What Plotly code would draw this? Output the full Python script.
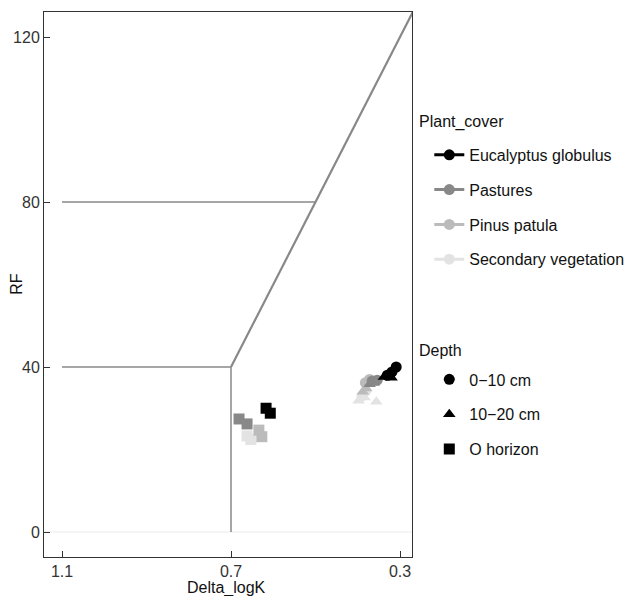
import plotly.graph_objects as go

# ---- data ----
plant_covers = ["Eucalyptus globulus", "Pastures", "Pinus patula", "Secondary vegetation"]
plant_colors = ["#000000", "#888888", "#bbbbbb", "#e3e3e3"]
depths = ["0\u221210 cm", "10\u221220 cm", "O horizon"]
depth_symbols = ["circle", "triangle-up", "square"]

# (plant cover, depth) -> (Delta_logK list, RF list)
points = {
    ("Secondary vegetation", "O horizon"): ([0.662, 0.653], [23.3, 22.4]),
    ("Secondary vegetation", "10\u221220 cm"): ([0.398, 0.384, 0.356], [31.8, 32.6, 31.6]),
    ("Secondary vegetation", "0\u221210 cm"): ([0.381, 0.390], [34.2, 33.0]),
    ("Pinus patula", "O horizon"): ([0.634, 0.627], [24.7, 23.1]),
    ("Pinus patula", "10\u221220 cm"): ([0.388, 0.380], [34.0, 34.8]),
    ("Pinus patula", "0\u221210 cm"): ([0.382, 0.372], [36.2, 37.0]),
    ("Pastures", "O horizon"): ([0.681, 0.662], [27.4, 26.2]),
    ("Pastures", "10\u221220 cm"): ([0.372, 0.362], [35.8, 36.2]),
    ("Pastures", "0\u221210 cm"): ([0.366, 0.354], [36.6, 36.8]),
    ("Eucalyptus globulus", "O horizon"): ([0.617, 0.607], [30.0, 28.8]),
    ("Eucalyptus globulus", "10\u221220 cm"): ([0.338, 0.326, 0.320], [37.6, 38.2, 37.4]),
    ("Eucalyptus globulus", "0\u221210 cm"): ([0.330, 0.319, 0.309], [38.0, 38.8, 40.0]),
}

# classification boundary lines (Delta_logK, RF)
vert_x, vert_y = [0.7, 0.7], [0, 40]
h40_x, h40_y = [1.1, 0.7], [40, 40]
h80_x, h80_y = [1.1, 0.5], [80, 80]
diag_x, diag_y = [0.7, 0.27], [40, 126]
zero_x, zero_y = [1.2, 0.2], [0, 0]

x_ticks = [1.1, 0.7, 0.3]
y_ticks = [0, 40, 80, 120]

FONT = "Liberation Sans, Arial, sans-serif"
LINE_COL = "#888888"
FS = 16

fig = go.Figure()

fig.add_trace(go.Scatter(x=zero_x, y=zero_y, mode="lines",
                         line=dict(color="#ebebeb", width=1), showlegend=False, hoverinfo="skip"))
for xs, ys, w in [(vert_x, vert_y, 1.5), (h40_x, h40_y, 1.5), (h80_x, h80_y, 1.5), (diag_x, diag_y, 2.2)]:
    fig.add_trace(go.Scatter(x=xs, y=ys, mode="lines",
                             line=dict(color=LINE_COL, width=w), showlegend=False, hoverinfo="skip"))

for (pc, dp), (xs, ys) in points.items():
    col = plant_colors[plant_covers.index(pc)]
    sym = depth_symbols[depths.index(dp)]
    fig.add_trace(go.Scatter(x=xs, y=ys, mode="markers",
                             marker=dict(color=col, symbol=sym, size=11, line=dict(width=0)),
                             showlegend=False, name=f"{pc}, {dp}"))

# legend entries
for pc, col in zip(plant_covers, plant_colors):
    fig.add_trace(go.Scatter(x=[None], y=[None], mode="lines+markers", name=pc,
                             line=dict(color=col, width=3),
                             marker=dict(color=col, symbol="circle", size=11),
                             legend="legend", legendgroup=pc))
for dp, sym in zip(depths, depth_symbols):
    fig.add_trace(go.Scatter(x=[None], y=[None], mode="markers", name=dp,
                             marker=dict(color="black", symbol=sym, size=11),
                             legend="legend2", legendgroup=dp))

axis_common = dict(showline=True, linecolor="#333333", linewidth=1, mirror=True,
                   ticks="inside", ticklen=6, tickcolor="#333333",
                   showgrid=False, zeroline=False, automargin=False,
                   tickfont=dict(family=FONT, size=FS, color="#333333"))

# page body has an 8px margin: figure is drawn from (8, 8)
fig.update_layout(
    width=625, height=588,
    margin=dict(l=36, r=221, t=4, b=39, autoexpand=False),
    plot_bgcolor="white", paper_bgcolor="white",
    font=dict(family=FONT, size=FS, color="#111111"),
    xaxis=dict(range=[1.1426, 0.2716], tickvals=x_ticks, ticktext=[str(v) for v in x_ticks],
               **axis_common),
    yaxis=dict(range=[-6.06, 126.06], tickvals=y_ticks, **axis_common),
    legend=dict(x=1.047, y=0.769, xanchor="left", yanchor="top",
                font=dict(size=FS), itemwidth=30, tracegroupgap=11,
                bgcolor="rgba(0,0,0,0)"),
    legend2=dict(x=1.047, y=0.357, xanchor="left", yanchor="top",
                 font=dict(size=FS), itemwidth=30, tracegroupgap=11,
                 bgcolor="rgba(0,0,0,0)"),
    annotations=[
        dict(text="Delta_logK", xref="paper", yref="paper", x=0.497, y=-0.0569,
             xanchor="center", yanchor="middle", showarrow=False, font=dict(size=FS)),
        dict(text="RF", xref="paper", yref="paper", x=-0.074, y=0.501, textangle=-90,
             xanchor="center", yanchor="middle", showarrow=False, font=dict(size=FS)),
        dict(text="Plant_cover", xref="paper", yref="paper", x=1.0136, y=0.798,
             xanchor="left", yanchor="middle", showarrow=False, font=dict(size=FS)),
        dict(text="Depth", xref="paper", yref="paper", x=1.0136, y=0.3798,
             xanchor="left", yanchor="middle", showarrow=False, font=dict(size=FS)),
    ],
)

fig.write_html("out.html")
